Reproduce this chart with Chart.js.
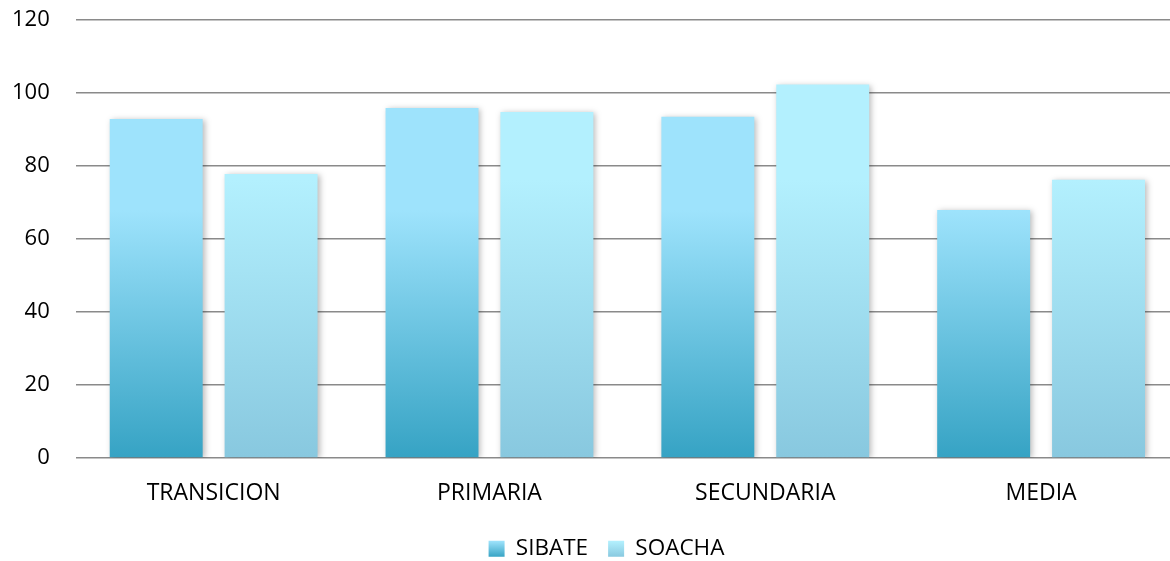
<!DOCTYPE html>
<html>
<head>
<meta charset="utf-8">
<script src="https://cdn.jsdelivr.net/npm/chart.js@4.4.1/dist/chart.umd.min.js"></script>
<style>
  html, body { margin: 0; padding: 0; background: #fff; overflow: hidden; }
  /* el area del grafico original sigue unos px fuera del recorte derecho */
  #wrap { width: 1179px; height: 561px; position: relative; }
</style>
</head>
<body>
<div id="wrap"><canvas id="chart"></canvas></div>
<script>
// datos
const categories = ['TRANSICION', 'PRIMARIA', 'SECUNDARIA', 'MEDIA'];
const sibate = [92.9, 95.9, 93.5, 67.9];
const soacha = [77.8, 94.8, 102.3, 76.2];
const yTicks = [0, 20, 40, 60, 80, 100, 120];

// colores de degradado (arriba -> abajo)
const colors = {
  SIBATE: ['#9ee3fc', '#36a3c4'],
  SOACHA: ['#b3f0fe', '#88c8df']
};

const font = "'Open Sans', 'Noto Sans', sans-serif";

// degradado vertical por barra + sombra suave
const barGradient = {
  id: 'barGradient',
  afterLayout(chart){
    // la leyenda original esta algo corrida a la derecha
    chart.legend.left += 24;
    chart.legend.right += 24;
  },
  beforeDatasetsDraw(chart){
    const ctx = chart.ctx;
    chart.data.datasets.forEach((ds, i) => {
      const meta = chart.getDatasetMeta(i);
      const c = colors[ds.label];
      meta.data.forEach(bar => {
        const g = ctx.createLinearGradient(0, bar.y, 0, bar.base);
        g.addColorStop(0, c[0]);
        g.addColorStop(1, c[1]);
        bar.options.backgroundColor = g;
      });
    });
    ctx.save();
    ctx.shadowColor = 'rgba(0,0,0,0.28)';
    ctx.shadowBlur = 6;
    ctx.shadowOffsetX = 2;
    ctx.shadowOffsetY = 1;
  },
  afterDatasetsDraw(chart){
    chart.ctx.restore();
  }
};

function legendFill(chart, key){
  const h = chart.height || 561;
  const g = chart.ctx.createLinearGradient(0, h - 20, 0, h - 4);
  g.addColorStop(0, colors[key][0]);
  g.addColorStop(1, colors[key][1]);
  return g;
}

new Chart(document.getElementById('chart'), {
  type: 'bar',
  data: {
    labels: categories,
    datasets: [
      { label: 'SIBATE', data: sibate, backgroundColor: colors.SIBATE[1] },
      { label: 'SOACHA', data: soacha, backgroundColor: colors.SOACHA[1] }
    ]
  },
  options: {
    responsive: true,
    maintainAspectRatio: false,
    animation: false,
    categoryPercentage: 0.833,
    barPercentage: 0.809,
    layout: { padding: { left: -14, right: 0, top: 20, bottom: -9 } },
    plugins: {
      tooltip: { enabled: false },
      legend: {
        position: 'bottom',
        labels: {
          font: { family: font, size: 22.5 },
          color: '#000',
          boxWidth: 16,
          boxHeight: 16,
          padding: 20,
          generateLabels(chart){
            return chart.data.datasets.map((ds, i) => ({
              text: ds.label,
              fillStyle: legendFill(chart, ds.label),
              strokeStyle: 'rgba(0,0,0,0)',
              lineWidth: 0,
              datasetIndex: i,
              fontColor: '#000'
            }));
          }
        }
      }
    },
    scales: {
      x: {
        grid: { display: false, drawTicks: false },
        border: { display: false },
        ticks: { font: { family: font, size: 23 }, color: '#000', padding: 22 },
        afterFit(axis){ axis.height -= 12; }
      },
      y: {
        min: 0,
        max: 120,
        afterBuildTicks(axis){ axis.ticks = yTicks.map(v => ({ value: v })); },
        afterFit(axis){ axis.paddingTop = 8; },
        grid: { color: '#8a8a8a', lineWidth: 1.5, drawTicks: false },
        border: { display: false },
        ticks: { font: { family: font, size: 22 }, color: '#000', padding: 26 }
      }
    }
  },
  plugins: [barGradient]
});
</script>
</body>
</html>
